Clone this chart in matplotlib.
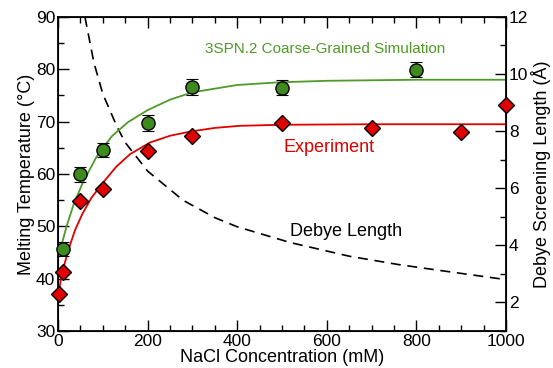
import matplotlib
matplotlib.use("Agg")
import matplotlib.pyplot as plt
from matplotlib.ticker import MultipleLocator

plt.rcParams['font.family'] = ['Liberation Sans', 'DejaVu Sans']

# simulation (3SPN.2) melting temperatures
sim_conc = [10, 50, 100, 200, 300, 500, 800]
sim_tm = [45.7, 59.9, 64.6, 69.8, 76.6, 76.5, 79.9]
sim_err = [1.3, 1.5, 1.4, 1.5, 1.5, 1.5, 1.4]

# experimental melting temperatures
exp_conc = [2, 10, 50, 100, 200, 300, 500, 700, 900, 1000]
exp_tm = [37.1, 41.3, 54.8, 57.1, 64.4, 67.2, 69.7, 68.7, 68.1, 73.2]

# fit curves
sim_fit_conc = [5, 8, 19, 34, 55, 86, 120, 156, 200, 250, 300, 400, 491, 600, 800, 1000]
sim_fit_tm = [45.5, 46.5, 50.0, 54.0, 58.3, 63.3, 67.2, 69.9, 72.2, 74.2, 75.6, 77.0, 77.5, 77.8, 78.0, 78.0]

exp_fit_conc = [2, 6, 15, 25, 38, 55, 75, 100, 130, 161, 205, 250, 295, 350, 406, 500, 700, 1000]
exp_fit_tm = [37.6, 39.7, 43.0, 46.0, 49.3, 52.5, 55.5, 58.3, 61.4, 63.8, 66.0, 67.3, 68.1, 68.8, 69.2, 69.4, 69.5, 69.5]

# Debye screening length (right axis)
debye_conc = [60, 80, 100, 132, 150, 200, 279, 350, 400, 518, 650, 759, 853, 1000]
debye_len = [12.0, 10.4, 9.3, 8.14, 7.6, 6.6, 5.58, 4.97, 4.65, 4.1, 3.62, 3.33, 3.12, 2.8]

green = '#4f9a28'
green_fill = '#3f8a1c'
red = '#e00000'

fig = plt.figure(figsize=(5.53, 3.68), dpi=100)
ax = fig.add_axes([0.105, 0.1005, 0.81, 0.8535])
ax2 = ax.twinx()
ax.set_zorder(ax2.get_zorder() + 1)
ax.patch.set_visible(False)

ax.plot(sim_fit_conc, sim_fit_tm, color=green, lw=1.3, zorder=2)
ax.plot(exp_fit_conc, exp_fit_tm, color=red, lw=1.3, zorder=2)
ax.errorbar(sim_conc, sim_tm, yerr=sim_err, fmt='none', ecolor='black',
            elinewidth=0.8, capsize=4, capthick=0.8, zorder=3)
ax.plot(sim_conc, sim_tm, 'o', ms=9.5, mfc=green_fill, mec='black', mew=1.0, zorder=4, clip_on=False)
ax.plot(exp_conc, exp_tm, 'D', ms=8, mfc=red, mec='black', mew=1.0, zorder=4, clip_on=False)

ax2.plot(debye_conc, debye_len, color='black', lw=1.2, ls=(0, (6, 4)))

ax.set_xlim(0, 1000)
ax.set_ylim(30, 90)
ax2.set_ylim(1, 12)

ax.xaxis.set_major_locator(MultipleLocator(200))
ax.xaxis.set_minor_locator(MultipleLocator(50))
ax.yaxis.set_major_locator(MultipleLocator(10))
ax.yaxis.set_minor_locator(MultipleLocator(5))
ax2.yaxis.set_major_locator(MultipleLocator(2))
ax2.yaxis.set_minor_locator(MultipleLocator(1))

ax.tick_params(which='both', direction='in', top=True, right=False, labelsize=12.5, width=1, pad=2)
ax.tick_params(which='major', length=8)
ax.tick_params(which='minor', length=4)
ax2.tick_params(which='both', direction='in', labelsize=12.5, width=1, pad=2)
ax2.tick_params(which='major', length=8)
ax2.tick_params(which='minor', length=4)
for s in ax.spines.values():
    s.set_linewidth(1.3)

ax.set_xlabel('NaCl Concentration (mM)', fontsize=13, labelpad=0)
ax.set_ylabel('Melting Temperature (°C)', fontsize=13, labelpad=1)
ax2.set_ylabel('Debye Screening Length (Å)', fontsize=13, labelpad=2)

ax.text(596, 83.9, '3SPN.2 Coarse-Grained Simulation', color=green, fontsize=11, ha='center', va='center')
ax.text(605, 65.0, 'Experiment', color=red, fontsize=13, ha='center', va='center')
ax.text(643, 49.1, 'Debye Length', color='black', fontsize=13, ha='center', va='center')

fig.savefig('out.png', dpi=100)
